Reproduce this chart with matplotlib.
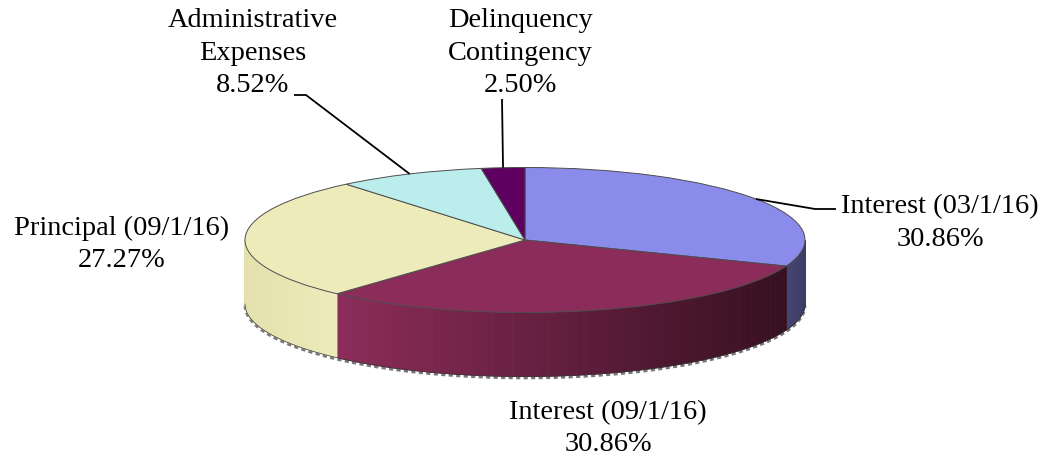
#!/usr/bin/env python3
"""3D-style debt service pie chart."""

import numpy as np
import matplotlib
matplotlib.use('Agg')
import matplotlib.pyplot as plt
from matplotlib.colors import to_rgb

W, H = 1054, 463
CX, CY = 525, 240     # pie centre (px)
RX, RY = 280, 72.5    # ellipse radii (px)
DEPTH = 64 / RY       # rim height, in pie radii

labels = ['Interest (03/1/16)', 'Interest (09/1/16)', 'Principal (09/1/16)',
          'Administrative\nExpenses', 'Delinquency\nContingency']
values = [30.86, 30.86, 27.27, 8.52, 2.50]
top_colors = ['#8B8BEC', '#8B2C5A', '#EEEBBB', '#BBEDED', '#5E0060']
# side colours at the left and right end of each visible rim piece
rim_left = ['#45456F', '#8B2C5A', '#E4E1AE', '#BBEDED', '#5E0060']
rim_right = ['#3D3D68', '#36101F', '#EEEBBB', '#BBEDED', '#5E0060']
label_px = [(940, 223), (608, 428.5), (122, 244.5), (253, 53), (520, 53)]
# leader elbows in px, from the label towards the wedge
leader_px = [[(836, 209), (815, 209)], None, None, [(294, 95), (306, 95)],
             [(502, 99)]]

plt.rcParams['font.family'] = ['Liberation Serif', 'DejaVu Serif']


def px(x, y):
    return (x - CX) / RX, (CY - y) / RY


def ellipse_xy(angle):
    return np.cos(angle), np.sin(angle)


fig = plt.figure(figsize=(W / 100, H / 100), dpi=100)
ax = fig.add_axes([0, 0, 1, 1])

# angles of the wedges, clockwise from 12 o'clock
edges = 90 - 360 * np.cumsum([0] + values) / sum(values)

# Rim: only the front half (180..360 deg) is visible
for i in range(len(values)):
    a1, a0 = edges[i], edges[i + 1]
    lo, hi = max(a0, -180), min(a1, 0)
    if lo >= hi:
        continue
    ang = np.radians(np.linspace(lo, hi, 60))
    xs, ys = ellipse_xy(ang)
    c0, c1 = np.array(to_rgb(rim_left[i])), np.array(to_rgb(rim_right[i]))
    for j in range(len(ang) - 1):
        t = (xs[j] - xs[0]) / (xs[-1] - xs[0])
        ax.fill([xs[j], xs[j + 1], xs[j + 1], xs[j]],
                [ys[j], ys[j + 1], ys[j + 1] - DEPTH, ys[j] - DEPTH],
                color=c0 + (c1 - c0) * t, lw=0.6, zorder=1)

# fuzzy shadow under the rim
ang = np.radians(np.linspace(-180, 0, 300))
xs, ys = ellipse_xy(ang)
ax.plot(xs, ys - DEPTH - 0.02, color='#777777', lw=2.0, ls=(0, (1.5, 1.2)),
        zorder=0.5)
ax.plot(xs, ys - DEPTH, color='#333333', lw=0.5, zorder=2)

wedges, _ = ax.pie(values, colors=top_colors, startangle=90, counterclock=False,
                   wedgeprops={'edgecolor': '#4d4d4d', 'linewidth': 0.7, 'zorder': 3})

ax.set_aspect('auto')
ax.set_xlim(-CX / RX, (W - CX) / RX)
ax.set_ylim((CY - H) / RY, CY / RY)
ax.axis('off')

# Labels and leaders
for i, name in enumerate(labels):
    x, y = px(*label_px[i])
    ax.text(x, y, f'{name}\n{values[i]:.2f}%', ha='center', va='center',
            fontsize=20.4, linespacing=1.38, color='black', zorder=6)
    if leader_px[i]:
        mid = np.radians((edges[i] + edges[i + 1]) / 2)
        pts = [px(*p) for p in leader_px[i]] + [ellipse_xy(mid)]
        ax.plot([p[0] for p in pts], [p[1] for p in pts], color='black', lw=1.3,
                zorder=5, solid_capstyle='butt')

fig.savefig('out.png', dpi=100)
